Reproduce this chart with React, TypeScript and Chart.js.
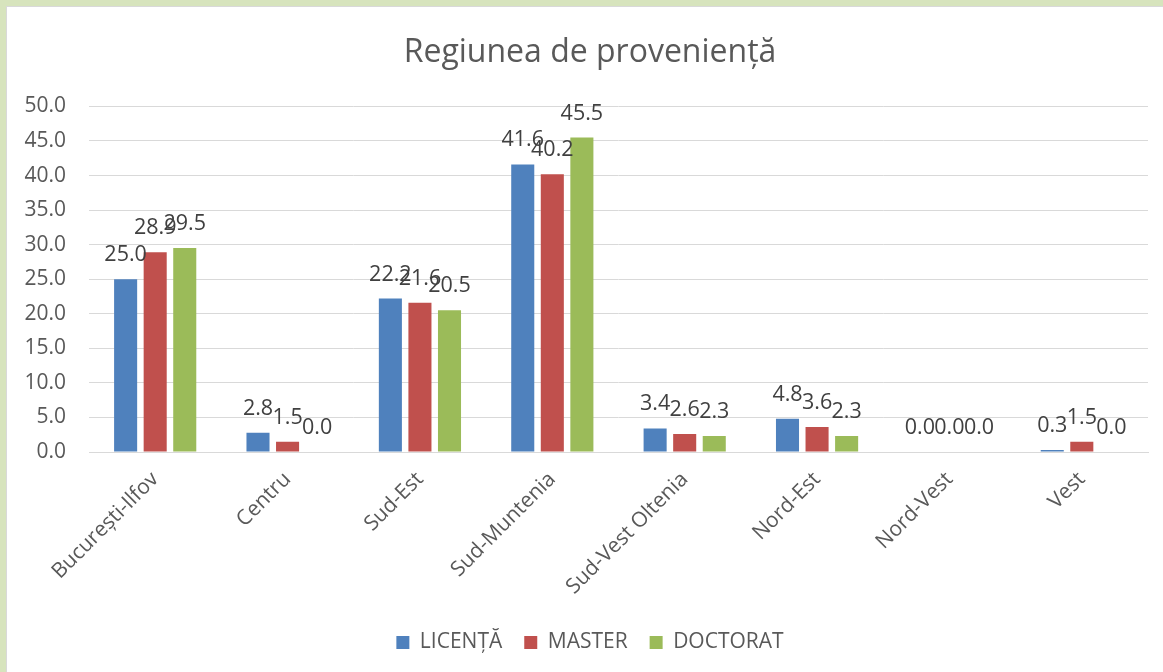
import React, { useEffect, useRef } from "react";
import { Chart, registerables } from "chart.js";

Chart.register(...registerables);

const categories = [
  "București-Ilfov",
  "Centru",
  "Sud-Est",
  "Sud-Muntenia",
  "Sud-Vest Oltenia",
  "Nord-Est",
  "Nord-Vest",
  "Vest",
];
const licenta = [25.0, 2.8, 22.2, 41.6, 3.4, 4.8, 0.0, 0.3];
const master = [28.9, 1.5, 21.6, 40.2, 2.6, 3.6, 0.0, 1.5];
const doctorat = [29.5, 0.0, 20.5, 45.5, 2.3, 2.3, 0.0, 0.0];
const seriesNames = ["LICENȚĂ", "MASTER", "DOCTORAT"];
const seriesColors = ["#4f81bd", "#c0504d", "#9bbb59"];
const titleText = "Regiunea de proveniență";

const FONT = "'Open Sans', 'DejaVu Sans', sans-serif";

const valueLabels = {
  id: "valueLabels",
  afterDatasetsDraw(chart: any) {
    const ctx = chart.ctx;
    ctx.save();
    ctx.font = `21.5px ${FONT}`;
    ctx.fillStyle = "#404040";
    ctx.textAlign = "center";
    ctx.textBaseline = "alphabetic";
    chart.data.datasets.forEach((ds: any, i: number) => {
      const meta = chart.getDatasetMeta(i);
      meta.data.forEach((bar: any, j: number) => {
        const v = ds.data[j] as number;
        ctx.fillText(v.toFixed(1), bar.x, bar.y - 18);
      });
    });
    ctx.restore();
  },
};

export default function App() {
  const ref = useRef<HTMLCanvasElement>(null);
  useEffect(() => {
    document.body.style.margin = "0";
    const data = [licenta, master, doctorat];
    const chart = new Chart(ref.current!, {
      type: "bar",
      data: {
        labels: categories,
        datasets: seriesNames.map((n, i) => ({
          label: n,
          data: data[i],
          backgroundColor: seriesColors[i],
          borderWidth: 0,
          barPercentage: 0.78,
          categoryPercentage: 0.67,
        })),
      },
      options: {
        animation: false,
        responsive: true,
        maintainAspectRatio: false,
        layout: { padding: { left: 10, right: 0, top: 0, bottom: 9 } },
        plugins: {
          title: {
            display: true,
            text: titleText,
            color: "#595959",
            font: { family: FONT, size: 32, weight: "normal" },
            padding: { top: 27, bottom: 34 },
          },
          legend: {
            position: "bottom",
            labels: {
              color: "#595959",
              font: { family: FONT, size: 21 },
              boxWidth: 13,
              boxHeight: 13,
              padding: 22,
            },
          },
          tooltip: { enabled: false },
        },
        scales: {
          x: {
            grid: { display: false },
            border: { color: "#d9d9d9", width: 1 },
            ticks: {
              color: "#595959",
              font: { family: FONT, size: 21 },
              minRotation: 45,
              maxRotation: 45,
              padding: 7,
            },
            afterFit: (s: any) => {
              s.height = 158;
            },
          },
          y: {
            min: 0,
            max: 50,
            border: { display: false },
            grid: { color: "#d9d9d9", lineWidth: 1, drawTicks: false },
            ticks: {
              stepSize: 5,
              color: "#595959",
              font: { family: FONT, size: 21 },
              padding: 23,
              callback: (v: any) => Number(v).toFixed(1),
            },
            afterFit: (s: any) => {
              s.width = 72;
            },
          },
          yRight: {
            position: "right",
            min: 0,
            max: 50,
            border: { display: false },
            grid: { display: false },
            ticks: { display: false },
            afterFit: (s: any) => {
              s.width = 15;
            },
          },
        },
      },
      plugins: [valueLabels],
    });
    return () => chart.destroy();
  }, []);

  return (
    <div
      style={{
        position: "fixed",
        left: 0,
        top: 0,
        width: 1163,
        height: 672,
        background: "#d7e4bd",
      }}
    >
      <div
        style={{
          position: "absolute",
          left: 6,
          top: 6,
          width: 1157,
          height: 666,
          background: "#ffffff",
          borderLeft: "1px solid #d9d9d9",
          borderTop: "1px solid #d9d9d9",
          boxSizing: "border-box",
        }}
      >
        <canvas ref={ref} />
      </div>
    </div>
  );
}
